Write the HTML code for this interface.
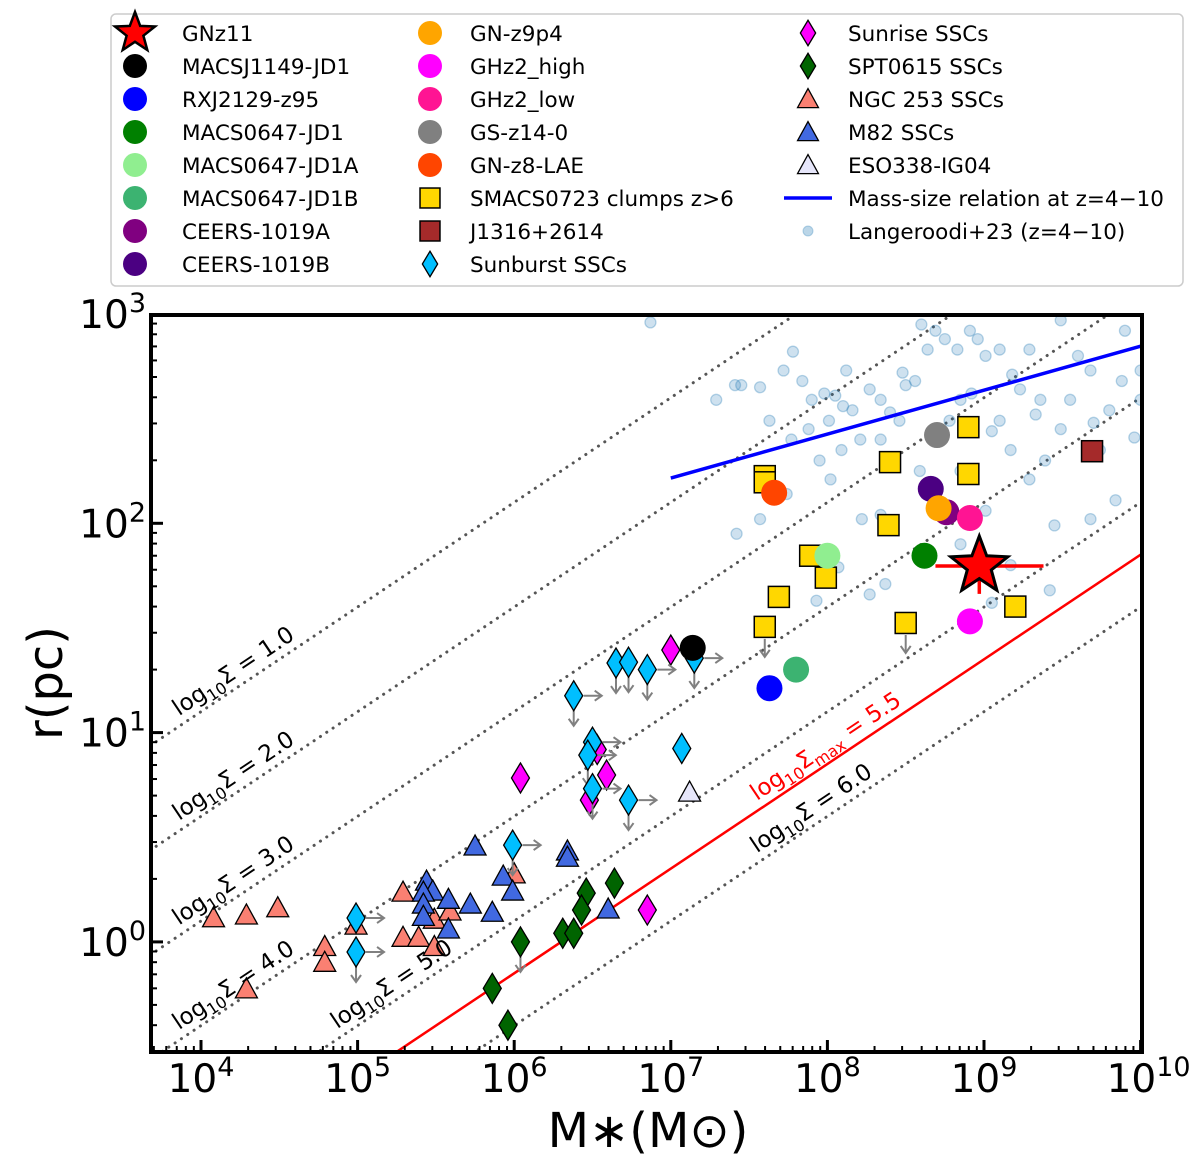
<!DOCTYPE html>
<html><head><meta charset="utf-8"><style>
html,body{margin:0;padding:0;background:#fff;width:1200px;height:1175px;overflow:hidden;}
svg{display:block;font-family:"DejaVu Sans","Liberation Sans",sans-serif;}
</style></head><body>
<svg id="chart" width="1200" height="1175" viewBox="0 0 1200 1175" xmlns="http://www.w3.org/2000/svg">
<defs><clipPath id="plotclip"><rect x="151" y="315" width="991" height="737"/></clipPath></defs>
<g id="plot" clip-path="url(#plotclip)"></g>
<g id="axes"></g>
<g id="legend"></g>
</svg>
<script>
// ---- data ----
const sigmaLevels = [1, 2, 3, 4, 5, 6];
const sigmaMax = 5.5;
const massSizeLgM = [7.0, 10.03];
const langLgM = [6.87,7.41,7.57,7.72,7.78,7.84,7.90,8.01,8.05,8.12,8.16,8.27,8.34,8.40,8.50,8.56,8.64,8.69,8.75,8.83,8.91,8.96,9.01,9.10,9.18,9.23,9.36,9.49,9.55,9.68,9.80,9.96,10.0,9.90,9.49,9.29,8.46,8.34,8.21,8.09,7.95,7.88,7.77,7.63,7.45,7.29,8.02,8.22,8.34,8.59,8.85,9.17,9.39,9.74,9.68,9.45,9.01,8.85,8.27,7.93,7.57,8.07,7.74,7.42,9.17,9.05,9.42,8.37,9.29,8.78,9.84,10.0,8.85,9.10,8.60,8.92,9.60,9.33,8.10,7.98,8.48,9.05,9.70,9.88];
const langLgR = [2.96,2.66,2.65,2.73,2.82,2.68,2.59,2.49,2.61,2.73,2.54,2.64,2.59,2.53,2.66,2.68,2.83,2.92,2.88,2.83,2.92,2.88,2.80,2.83,2.71,2.64,2.59,2.45,2.59,2.73,2.54,2.41,2.73,2.92,2.97,2.83,2.49,2.40,2.40,2.35,2.30,2.45,2.40,2.49,2.66,2.59,2.21,2.02,2.04,2.25,2.25,2.35,2.30,2.35,2.02,1.99,2.06,1.90,1.66,1.63,2.02,1.79,2.14,1.95,1.80,1.62,1.68,1.71,2.21,2.49,2.11,2.59,2.59,2.49,2.95,2.62,2.80,2.52,2.56,2.62,2.72,2.44,2.48,2.68];
const ngcLgM = [4.08,4.29,4.49,4.79,4.79,4.29,4.99,5.29,5.29,5.39,5.49,5.49,5.59,6.0];
const ngcR = [1.29,1.33,1.44,0.94,0.79,0.59,1.19,1.71,1.04,1.04,0.94,1.27,1.39,2.09];
const m82LgM = [5.44,5.48,5.42,5.42,5.42,5.58,5.58,5.72,5.75,5.86,5.93,6.34,6.34,6.60,5.99];
const m82R = [1.93,1.73,1.71,1.50,1.31,1.58,1.14,1.50,2.84,1.37,2.04,2.69,2.51,1.42,1.73];
const sunburstLgM = [6.38,6.65,6.73,6.85,6.50,6.47,6.50,6.73,7.07,5.99,7.15,4.99,4.99];
const sunburstR = [15.0,21.5,21.7,20.0,9.0,7.8,5.4,4.76,8.4,2.90,22.7,1.30,0.895];
const sunburstRightArrow = [1,0,0,1,1,1,1,1,0,1,1,1,1];
const sunburstDownArrow = [1,1,1,1,0,1,1,1,0,1,1,0,1];
const sunriseLgM = [7.0,6.04,6.59,6.48,6.53,6.85];
const sunriseR = [24.8,6.07,6.27,4.76,8.3,1.42];
const sptLgM = [6.64,6.46,6.43,6.31,6.38,6.04,5.86,5.96];
const sptR = [1.91,1.71,1.42,1.10,1.10,1.0,0.60,0.40];
const sptDownArrow = [0,0,0,0,0,1,0,0];
const smacsLgM = [7.60,7.60,8.40,8.90,8.90,8.39,7.89,7.99,7.69,7.60,8.50,9.20];
const smacsR = [168,157,196,288,172,98,70,55,44.5,32,33.4,40];
const smacsDownArrow = [0,0,0,0,0,0,0,0,0,1,1,0];
const circleNames = ["MACSJ1149-JD1","RXJ2129-z95","MACS0647-JD1","MACS0647-JD1A","MACS0647-JD1B","CEERS-1019A","CEERS-1019B","GN-z9p4","GHz2_high","GHz2_low","GS-z14-0","GN-z8-LAE"];
const circleLgM = [7.14,7.63,8.62,8.00,7.80,8.76,8.66,8.71,8.91,8.91,8.70,7.66];
const circleR = [25.4,16.3,70,70,20,113,146,118,34,106,264,140];
const circleColors = ["#000000","#0000ff","#008000","#90ee90","#3cb371","#800080","#4b0082","#ffa500","#ff00ff","#ff1493","#808080","#ff4500"];
const j1316LgM = [9.69], j1316R = [221];
const esoLgM = [7.12], esoR = [5.14];
const gnz11LgM = 8.97, gnz11R = 62.5, gnz11LgMlo = 8.69, gnz11LgMhi = 9.38, gnz11Rlo = 46, gnz11Rhi = 76;
const xTickExps = [4,5,6,7,8,9,10];
const yTickExps = [0,1,2,3];

// ---- scales ----
const X0 = 201, XD = 156.6, Y3 = 314, YD = 209.3;
const X = lg => X0 + (lg - 4) * XD;
const Y = r => Y3 + (3 - Math.log10(r)) * YD;
const YL = lg => Y3 + (3 - lg) * YD;
const NS = "http://www.w3.org/2000/svg";
function mk(tag, attrs, parent){ const e=document.createElementNS(NS,tag); for(const k in attrs) e.setAttribute(k,attrs[k]); parent.appendChild(e); return e; }
const plot = document.getElementById('plot'), axes = document.getElementById('axes'), legend = document.getElementById('legend');
const lgMmin = 3.673, lgMmax = 10.03;
const C = 0.8;
const sigR = (lgM, s) => 0.5 * (lgM - s - C);

sigmaLevels.forEach((s) => {
  const l = mk('line',{x1:X(lgMmin),y1:YL(sigR(lgMmin,s)),x2:X(lgMmax),y2:YL(sigR(lgMmax,s)),stroke:'#555',"stroke-width":3,"stroke-dasharray":"0.1 7.5","stroke-linecap":"round"},plot);
  
  
});
const red = mk('line',{x1:X(lgMmin),y1:YL(sigR(lgMmin,sigmaMax)),x2:X(lgMmax),y2:YL(sigR(lgMmax,sigmaMax)),stroke:'#ff0000',"stroke-width":2.5},plot);



langLgM.forEach((m,i)=>{
  const c = mk('circle',{cx:X(m),cy:YL(langLgR[i]),r:5.5,fill:'rgba(31,119,180,0.22)',stroke:'rgba(31,119,180,0.3)',"stroke-width":1.3},plot);
  
  
});
const ms = mk('line',{x1:X(massSizeLgM[0]),y1:YL(2.216+0.21*(massSizeLgM[0]-7)),x2:X(massSizeLgM[1]),y2:YL(2.216+0.21*(massSizeLgM[1]-7)),stroke:'#0000ff',"stroke-width":3.5},plot);



function arrow(x,y,dir,parent){
  const g = mk('g',{stroke:'#808080',"stroke-width":2,fill:'none'},parent);
  if(dir==='right'){ mk('line',{x1:x+10,y1:y,x2:x+28,y2:y},g); mk('polyline',{points:`${x+21},${y-5} ${x+28},${y} ${x+21},${y+5}`},g); }
  else { mk('line',{x1:x,y1:y+12,x2:x,y2:y+30},g); mk('polyline',{points:`${x-5},${y+23} ${x},${y+30} ${x+5},${y+23}`},g); }
  
  
}
function tri(x,y,fill,parent,s=1){ return mk('polygon',{points:`${x},${y-12*s} ${x-11*s},${y+8*s} ${x+11*s},${y+8*s}`,fill:fill,stroke:'#000',"stroke-width":1.3},parent); }
function dia(x,y,fill,parent,s=1){ return mk('polygon',{points:`${x},${y-15*s} ${x+9*s},${y} ${x},${y+15*s} ${x-9*s},${y}`,fill:fill,stroke:'#000',"stroke-width":1.3},parent); }
function sq(x,y,fill,parent,s=1){ return mk('rect',{x:x-10.5*s,y:y-10.5*s,width:21*s,height:21*s,fill:fill,stroke:'#000',"stroke-width":1.5},parent); }
function star(x,y,R,fill,parent,sw){ let p=[]; for(let i=0;i<10;i++){const a=-Math.PI/2+i*Math.PI/5; const rr=i%2?R*0.42:R; p.push((x+rr*Math.cos(a)).toFixed(1)+','+(y+rr*Math.sin(a)).toFixed(1));} return mk('polygon',{points:p.join(' '),fill:fill,stroke:'#000',"stroke-width":sw,"stroke-linejoin":"miter"},parent); }

ngcLgM.forEach((m,i)=>{ const e=tri(X(m),Y(ngcR[i]),'#fa8072',plot);
  
   });
m82LgM.forEach((m,i)=>{ const e=tri(X(m),Y(m82R[i]),'#4169e1',plot);
  
   });
sptLgM.forEach((m,i)=>{ if(sptDownArrow[i]) arrow(X(m),Y(sptR[i]),'down',plot);
  const e=dia(X(m),Y(sptR[i]),'#006400',plot);
  
   });
sunriseLgM.forEach((m,i)=>{ const e=dia(X(m),Y(sunriseR[i]),'#ff00ff',plot);
  
   });
sunburstLgM.forEach((m,i)=>{ const x=X(m),y=Y(sunburstR[i]);
  if(sunburstRightArrow[i]) arrow(x,y,'right',plot);
  if(sunburstDownArrow[i]) arrow(x,y,'down',plot);
  const e=dia(x,y,'#00bfff',plot);
  
   });
esoLgM.forEach((m,i)=>{ const e=tri(X(m),Y(esoR[i]),'#e6e6fa',plot);
  
   });
smacsLgM.forEach((m,i)=>{ if(smacsDownArrow[i]) arrow(X(m),Y(smacsR[i]),'down',plot);
  const e=sq(X(m),Y(smacsR[i]),'#ffd700',plot);
  
   });
j1316LgM.forEach((m,i)=>{ const e=sq(X(m),Y(j1316R[i]),'#a52a2a',plot);
  
   });
circleLgM.forEach((m,i)=>{ const e=mk('circle',{cx:X(m),cy:Y(circleR[i]),r:13,fill:circleColors[i]},plot);
  
   });
const eb = mk('g',{stroke:'#ff0000',"stroke-width":3.5},plot);


mk('line',{x1:X(gnz11LgMlo),y1:Y(gnz11R),x2:X(gnz11LgMhi),y2:Y(gnz11R)},eb);
mk('line',{x1:X(gnz11LgM),y1:Y(gnz11Rlo),x2:X(gnz11LgM),y2:Y(gnz11Rhi)},eb);
const st = star(X(gnz11LgM),Y(gnz11R),30,'#ff0000',plot,3);



const ang = -Math.atan(0.5*YD/XD)*180/Math.PI;
sigmaLevels.forEach(s=>{
  let lgM = s<=4 ? 3.86 : (s===5 ? 4.87 : 7.55);
  const x=X(lgM), y=YL(sigR(lgM,s))-10;
  const t = mk('text',{x:x,y:y,transform:`rotate(${ang} ${x} ${y})`,"font-size":23,fill:'#000'},axes);
  t.innerHTML = `log<tspan font-size="16" dy="6">10</tspan><tspan dy="-6">Σ = ${s.toFixed(1)}</tspan>`;
  
  
});
{ const lgM=7.55; const x=X(lgM), y=YL(sigR(lgM,sigmaMax))-10;
  const t=mk('text',{x:x,y:y,transform:`rotate(${ang} ${x} ${y})`,"font-size":23,fill:'#ff0000'},axes);
  t.innerHTML = `log<tspan font-size="16" dy="6">10</tspan><tspan dy="-6">Σ</tspan><tspan font-size="16" dy="6">max</tspan><tspan dy="-6"> = 5.5</tspan>`;
  
   }

const fr = mk('rect',{x:151,y:315,width:991,height:737,fill:'none',stroke:'#000',"stroke-width":4},axes);


for(let e=3;e<=10;e++){
  for(let k=1;k<10;k++){
    const lg = e+Math.log10(k); if(lg<lgMmin||lg>lgMmax) continue;
    const x=X(lg), L = k===1?12:6;
    mk('line',{x1:x,y1:1052,x2:x,y2:1052-L,stroke:'#000',"stroke-width":k===1?3:2},axes);
  }
}
xTickExps.forEach(e=>{
  const t=mk('text',{x:X(e)+(e===10?8:0),y:1092,"text-anchor":"middle","font-size":39,fill:'#000'},axes);
  t.innerHTML=`10<tspan font-size="27" dy="-16">${e}</tspan>`;
  
  
});
for(let e=-1;e<=2;e++){
  for(let k=1;k<10;k++){
    const lg=e+Math.log10(k); if(lg<-0.521||lg>3) continue;
    const y=YL(lg), L=k===1?12:6;
    mk('line',{x1:151,y1:y,x2:151+L,y2:y,stroke:'#000',"stroke-width":k===1?3:2},axes);
  }
}
yTickExps.forEach(e=>{
  const t=mk('text',{x:146,y:YL(e)+14,"text-anchor":"end","font-size":39,fill:'#000'},axes);
  t.innerHTML=`10<tspan font-size="27" dy="-16">${e}</tspan>`;
  
  
});
const xt=mk('text',{x:648,y:1147,"text-anchor":"middle","font-size":48,fill:'#000'},axes);
xt.textContent='M∗(M⊙)';


const yt=mk('text',{x:62,y:683,"text-anchor":"middle","font-size":48,fill:'#000',transform:'rotate(-90 62 683)'},axes);
yt.textContent='r(pc)';



const lb = mk('rect',{x:111,y:14,width:1072,height:272,rx:5,fill:'#fff',stroke:'#ccc',"stroke-width":1.5},legend);


const entries = [
 ['star','GNz11','#ff0000'],['circle','MACSJ1149-JD1','#000000'],['circle','RXJ2129-z95','#0000ff'],['circle','MACS0647-JD1','#008000'],['circle','MACS0647-JD1A','#90ee90'],['circle','MACS0647-JD1B','#3cb371'],['circle','CEERS-1019A','#800080'],['circle','CEERS-1019B','#4b0082'],
 ['circle','GN-z9p4','#ffa500'],['circle','GHz2_high','#ff00ff'],['circle','GHz2_low','#ff1493'],['circle','GS-z14-0','#808080'],['circle','GN-z8-LAE','#ff4500'],['sq','SMACS0723 clumps z>6','#ffd700'],['sq',' J1316+2614','#a52a2a'],['dia','Sunburst SSCs','#00bfff'],
 ['dia','Sunrise SSCs','#ff00ff'],['dia','SPT0615 SSCs','#006400'],['tri','NGC 253 SSCs','#fa8072'],['tri','M82 SSCs','#4169e1'],['tri','ESO338-IG04','#e6e6fa'],['line','Mass-size relation at z=4−10','#0000ff'],['dot','Langeroodi+23 (z=4−10)','rgba(31,119,180,0.3)']
];
const colMX=[135,430,808], colTX=[182,470,848];
entries.forEach((en,i)=>{
  const col=Math.floor(i/8), row=i%8, mx=colMX[col], y=33+row*33;
  const g=mk('g',{},legend);
  
  
  const [type,label,color]=en;
  if(type==='star') star(mx,y,21,color,g,2.5);
  else if(type==='circle') mk('circle',{cx:mx,cy:y,r:12,fill:color},g);
  else if(type==='sq') sq(mx,y,color,g,0.95);
  else if(type==='dia') dia(mx,y,color,g,0.85);
  else if(type==='tri') tri(mx,y+1,color,g,0.95);
  else if(type==='line') mk('line',{x1:mx-24,y1:y,x2:mx+24,y2:y,stroke:color,"stroke-width":3.5},g);
  else mk('circle',{cx:mx,cy:y,r:5,fill:color,stroke:'rgba(31,119,180,0.3)'},g);
  const t=mk('text',{x:colTX[col],y:y+8,"font-size":21.5,fill:'#000',"xml:space":"preserve"},g);
  t.textContent=label;
});
</script>
</body></html>
